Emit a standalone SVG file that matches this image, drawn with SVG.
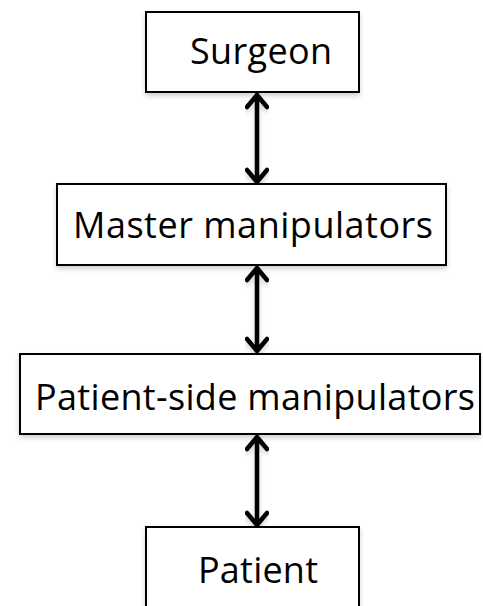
<svg xmlns="http://www.w3.org/2000/svg" width="483" height="606" viewBox="0 0 483 606">
<defs>
<filter id="sh" x="-10%" y="-20%" width="120%" height="150%">
<feDropShadow dx="0" dy="3" stdDeviation="2.5" flood-color="#000" flood-opacity="0.18"/>
</filter>
<style>
.box{fill:#fff;stroke:#000;stroke-width:2;filter:url(#sh)}
.lbl{font-family:"Open Sans","Noto Sans",sans-serif;font-size:36px;fill:#000;text-anchor:middle}
.arr{fill:none;stroke:#000;stroke-width:4.5;stroke-linecap:round;stroke-linejoin:miter}
</style>
</defs>
<rect width="483" height="606" fill="#fff"/>
<g id="connectors" filter="url(#sh)">
<path class="arr" d="M257,95 V182 M247,107 L257,95 L267,107 M247,170 L257,182 L267,170"/>
<path class="arr" d="M257,268 V351 M247,280 L257,268 L267,280 M247,339 L257,351 L267,339"/>
<path class="arr" d="M257,437 V525 M247,449 L257,437 L267,449 M247,513 L257,525 L267,513"/>
</g>
<g id="surgeon">
<rect class="box" x="146" y="12" width="213" height="80"/>
<text class="lbl" x="261" y="64" textLength="142">Surgeon</text>
</g>
<g id="master">
<rect class="box" x="57" y="184" width="389" height="81"/>
<text class="lbl" x="253" y="238" textLength="360">Master manipulators</text>
</g>
<g id="patient-side">
<rect class="box" x="20" y="354" width="460" height="80"/>
<text class="lbl" x="255" y="410" textLength="440">Patient-side manipulators</text>
</g>
<g id="patient">
<rect class="box" x="146" y="527" width="213" height="100"/>
<text class="lbl" x="258" y="583" textLength="120">Patient</text>
</g>
</svg>
